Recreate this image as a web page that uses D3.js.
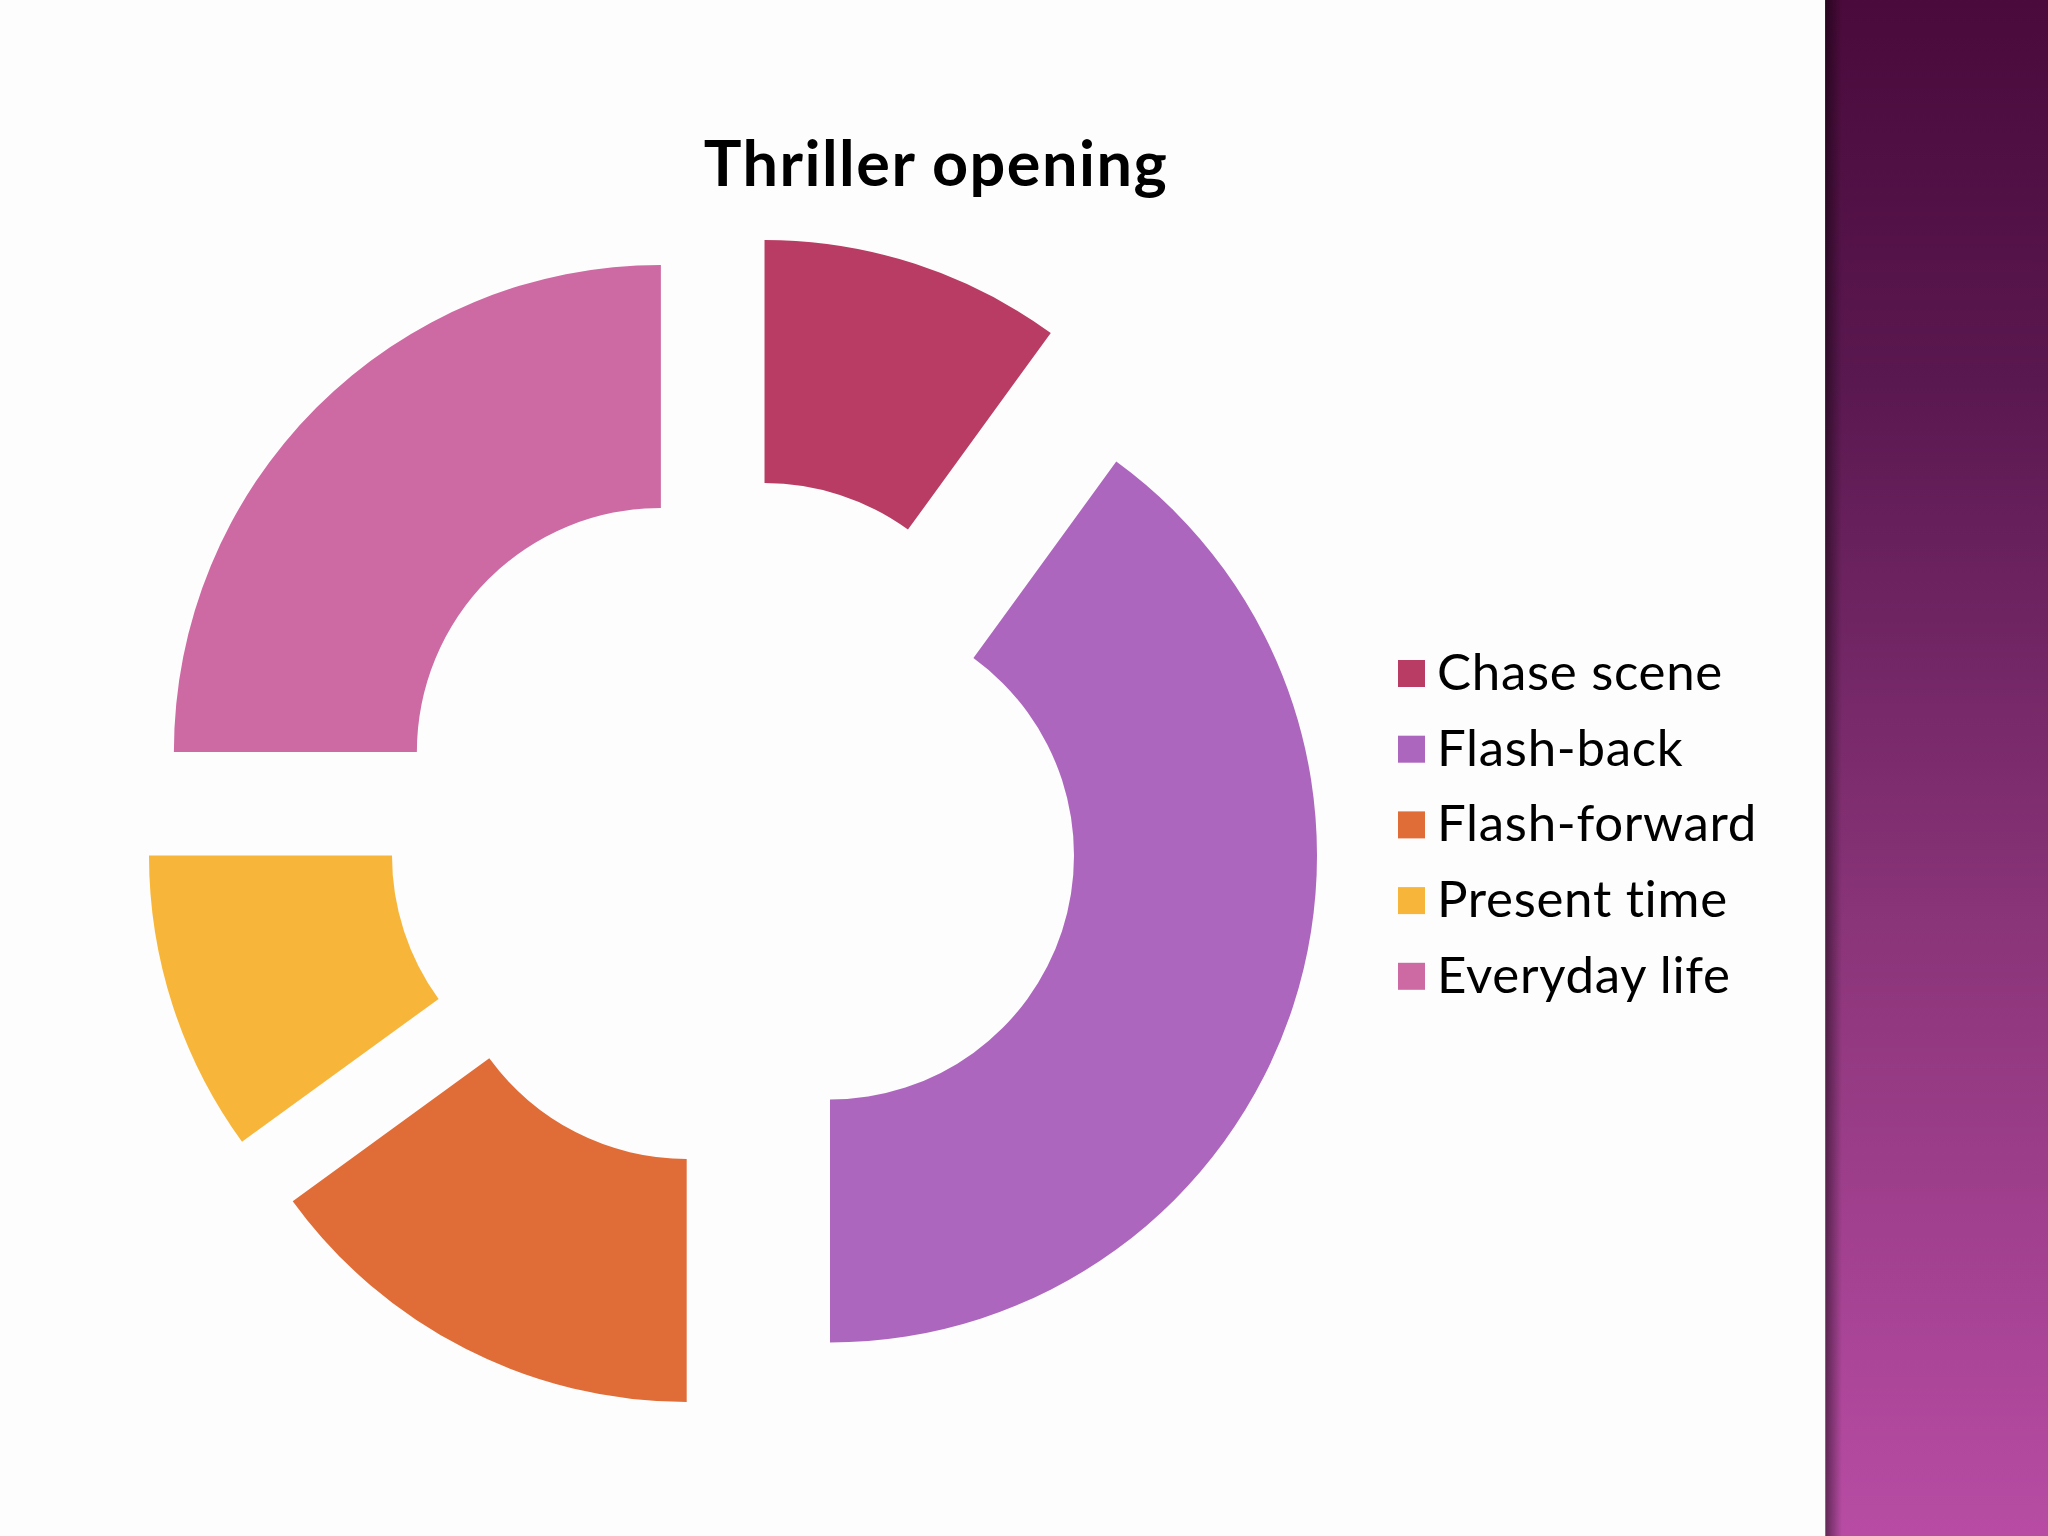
<!DOCTYPE html>
<html>
<head>
<meta charset="utf-8">
<script src="https://cdn.jsdelivr.net/npm/d3@7"></script>
<style>
  body { margin: 0; background: #fdfdfd; }
  svg { display: block; }
  text { font-variant-ligatures: none; }
</style>
</head>
<body>
<script>
// data (shares of 20)
var categories = ["Chase scene", "Flash-back", "Flash-forward", "Present time", "Everyday life"];
var values = [2, 8, 3, 2, 5];
var colors = ["#b83c64", "#ad66bd", "#e06c37", "#f7b63a", "#cd6aa3"];

var width = 2048, height = 1536;
var cx = 733, cy = 824;
var outerR = 487, innerR = 244;
var explode = 102;

var svg = d3.select("body").append("svg")
  .attr("width", width)
  .attr("height", height);

var defs = svg.append("defs");

// purple band on the right
var band = defs.append("linearGradient")
  .attr("id", "band").attr("x1", 0).attr("y1", 0).attr("x2", 0).attr("y2", 1);
band.append("stop").attr("offset", "0%").attr("stop-color", "#4a0a3b");
band.append("stop").attr("offset", "25%").attr("stop-color", "#5a1850");
band.append("stop").attr("offset", "60%").attr("stop-color", "#8a3479");
band.append("stop").attr("offset", "100%").attr("stop-color", "#b84ca4");

var edge = defs.append("linearGradient")
  .attr("id", "edge").attr("x1", 0).attr("y1", 0).attr("x2", 1).attr("y2", 0);
edge.append("stop").attr("offset", "0%").attr("stop-color", "#000").attr("stop-opacity", 0.45);
edge.append("stop").attr("offset", "100%").attr("stop-color", "#000").attr("stop-opacity", 0);

svg.append("rect").attr("x", 1825).attr("y", 0).attr("width", width - 1825).attr("height", height)
  .attr("fill", "url(#band)");
svg.append("rect").attr("x", 1826).attr("y", 0).attr("width", 16).attr("height", height)
  .attr("fill", "url(#edge)");

// title
svg.append("text")
  .attr("x", 936).attr("y", 186)
  .attr("text-anchor", "middle")
  .style("font-family", "Lato, 'Open Sans', sans-serif")
  .style("font-weight", "bold")
  .style("font-size", "63px")
  .style("letter-spacing", "1.5px")
  .attr("fill", "#000")
  .text("Thriller opening");

// exploded donut
var pie = d3.pie().sort(null).value(function(d) { return d; });
var arc = d3.arc().innerRadius(innerR).outerRadius(outerR);
var slices = pie(values);

svg.append("g")
  .attr("transform", "translate(" + cx + "," + cy + ")")
  .selectAll("path")
  .data(slices)
  .enter().append("path")
  .attr("d", arc)
  .attr("fill", function(d, i) { return colors[i]; })
  .attr("transform", function(d) {
    var mid = (d.startAngle + d.endAngle) / 2;
    return "translate(" + (explode * Math.sin(mid)) + "," + (-explode * Math.cos(mid)) + ")";
  });

// legend
var legend = svg.append("g").attr("transform", "translate(1398,660)");
var rows = legend.selectAll("g").data(categories).enter().append("g")
  .attr("transform", function(d, i) { return "translate(0," + (i * 75.7) + ")"; });
rows.append("rect")
  .attr("width", 27).attr("height", 27)
  .attr("fill", function(d, i) { return colors[i]; });
rows.append("text")
  .attr("x", 39).attr("y", 30)
  .style("font-family", "Lato, 'Open Sans', sans-serif")
  .style("font-size", "51px")
  .style("letter-spacing", "0.7px")
  .attr("fill", "#000")
  .text(function(d) { return d; });
</script>
</body>
</html>
